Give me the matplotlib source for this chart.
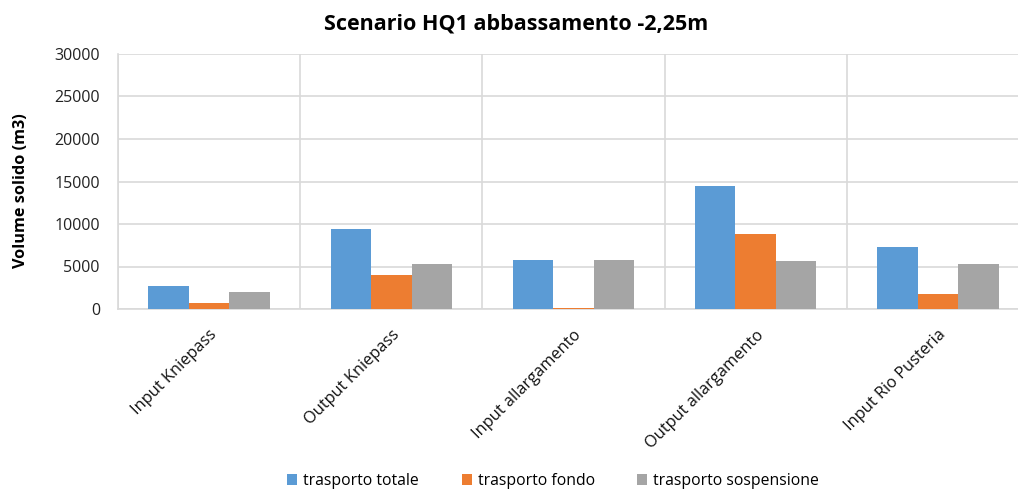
import matplotlib
matplotlib.use("Agg")
import matplotlib.pyplot as plt
from matplotlib.patches import Patch
import numpy as np

categories = ["Input Kniepass", "Output Kniepass", "Input allargamento",
              "Output allargamento", "Input Rio Pusteria"]
series_names = ["trasporto totale", "trasporto fondo", "trasporto sospensione"]
trasporto_totale = [2700, 9400, 5750, 14450, 7250]
trasporto_fondo = [700, 4000, 150, 8800, 1750]
trasporto_sospensione = [2000, 5350, 5750, 5650, 5350]
yticks = [0, 5000, 10000, 15000, 20000, 25000, 30000]

colors = ["#5B9BD5", "#ED7D31", "#A5A5A5"]
grid_color = "#D9D9D9"

plt.rcParams["font.family"] = ["Open Sans", "DejaVu Sans"]

W, H = 1018, 490
fig = plt.figure(figsize=(W / 100, H / 100), dpi=100)
ax = fig.add_axes([118 / W, 1 - 309 / H, (1029 - 118) / W, (309 - 54) / H])

x = np.arange(len(categories))
w = 0.222
for i, vals in enumerate([trasporto_totale, trasporto_fondo, trasporto_sospensione]):
    ax.bar(x + (i - 1) * w, vals, width=w, color=colors[i], label=series_names[i], zorder=3)

ax.set_xlim(-0.5, len(categories) - 0.5)
ax.set_ylim(0, 30000)
ax.set_yticks(yticks)
ax.set_yticklabels([str(v) for v in yticks], fontsize=11.5, color="#222222")
ax.yaxis.grid(True, color=grid_color, linewidth=1.2, zorder=0)

# vertical separators between categories
ax.set_xticks(np.arange(len(categories) + 1) - 0.5, minor=True)
ax.xaxis.grid(True, which="minor", color=grid_color, linewidth=1.2, zorder=0)
ax.set_xticks(x)
ax.set_xticklabels(categories, rotation=45, ha="right", va="top",
                   rotation_mode="anchor", fontsize=11.8, color="#111111")
ax.tick_params(axis="both", which="both", length=0)
ax.tick_params(axis="x", pad=13)
ax.tick_params(axis="y", pad=13)

for side in ["top", "right"]:
    ax.spines[side].set_visible(False)
for side in ["left", "bottom"]:
    ax.spines[side].set_color(grid_color)
    ax.spines[side].set_linewidth(1.2)

fig.text(21 / W, 1 - 191 / H, "Volume solido (m3)", rotation=90, ha="center", va="center",
         fontsize=11.7, fontweight="bold")

fig.text(0.507, 1 - 24 / H, "Scenario HQ1 abbassamento -2,25m", ha="center", va="center",
         fontsize=15.5, fontweight="bold")

# one legend entry per position along the bottom
legend_x = [287, 462, 637]
for xpos, name, col in zip(legend_x, series_names, colors):
    fig.legend(handles=[Patch(facecolor=col, label=name)], loc="center left",
               bbox_to_anchor=(xpos / W, 1 - 481 / H), frameon=False,
               fontsize=11.3, handlelength=0.65, handleheight=0.65,
               handletextpad=0.4, borderpad=0, borderaxespad=0)

fig.savefig("out.png", dpi=100)
